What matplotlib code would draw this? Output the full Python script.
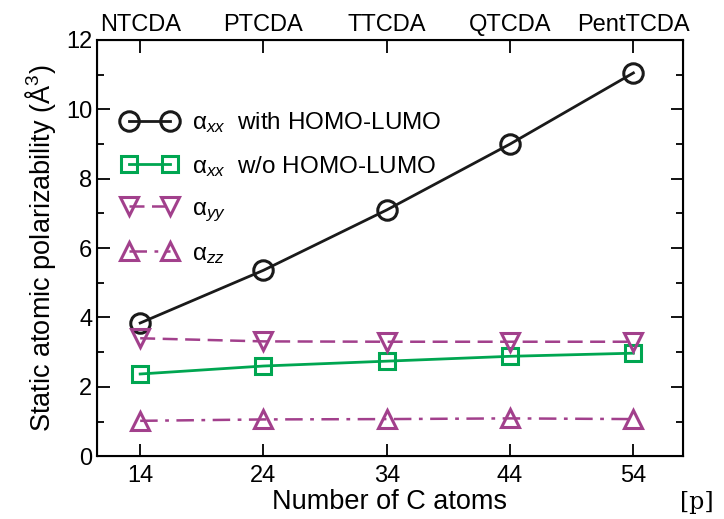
import matplotlib
matplotlib.use("Agg")
import matplotlib.pyplot as plt
from matplotlib.ticker import MultipleLocator

plt.rcParams['font.family'] = ['Liberation Sans', 'DejaVu Sans']
plt.rcParams['mathtext.fontset'] = 'custom'
plt.rcParams['mathtext.rm'] = 'Liberation Sans'
plt.rcParams['mathtext.it'] = 'Liberation Sans:italic'

# number of carbon atoms and molecule names
n_carbon = [14, 24, 34, 44, 54]
molecules = ['NTCDA', 'PTCDA', 'TTCDA', 'QTCDA', 'PentTCDA']

# static polarizabilities (Å^3)
alpha_xx = [3.84, 5.36, 7.10, 9.00, 11.05]
alpha_xx_nohl = [2.37, 2.60, 2.74, 2.88, 2.97]
alpha_yy = [3.40, 3.31, 3.30, 3.30, 3.30]
alpha_zz = [1.02, 1.06, 1.07, 1.09, 1.07]

black = '#1a1a1a'
green = '#00a651'
purple = '#a2408c'

fig = plt.figure(figsize=(7.24, 5.19), dpi=100)
ax = fig.add_axes([0.134, 0.121, 0.809, 0.802])

ax.plot(n_carbon, alpha_xx, '-', color=black, lw=2.0, marker='o', ms=14,
        mfc='none', mew=2.2, label=r'α$_{xx}$  with HOMO-LUMO')
ax.plot(n_carbon, alpha_xx_nohl, '-', color=green, lw=2.0, marker='s', ms=12,
        mfc='none', mew=2.2, label=r'α$_{xx}$  w/o HOMO-LUMO')
ax.plot(n_carbon, alpha_yy, '--', color=purple, lw=1.8, marker='v', ms=13,
        mfc='none', mew=2.2, dashes=(6, 3), label=r'α$_{yy}$')
ax.plot(n_carbon, alpha_zz, '-.', color=purple, lw=1.8, marker='^', ms=13,
        mfc='none', mew=2.2, dashes=(7, 3, 1.5, 3), label=r'α$_{zz}$')

ax.set_xlim(10.5, 58)
ax.set_ylim(0, 12)
ax.set_xticks(n_carbon)
ax.yaxis.set_major_locator(MultipleLocator(2))
ax.yaxis.set_minor_locator(MultipleLocator(1))
ax.tick_params(axis='both', which='major', direction='in', length=9, width=1.3,
               labelsize=17, right=True)
ax.tick_params(axis='y', which='minor', direction='in', length=5, width=1.3, right=True)
ax.tick_params(axis='x', pad=6)
for sp in ax.spines.values():
    sp.set_linewidth(1.5)

ax.set_xlabel('Number of C atoms', fontsize=19.5, labelpad=2)
ax.set_ylabel('Static atomic polarizability (Å$^3$)', fontsize=19.5, labelpad=6)

# molecule names along the top
top = ax.twiny()
top.set_xlim(ax.get_xlim())
top.set_xticks(n_carbon)
top.set_xticklabels(molecules)
top.tick_params(axis='x', direction='in', length=9, width=1.3, labelsize=17, pad=3)

ax.legend(loc='upper left', bbox_to_anchor=(0.025, 0.855), frameon=False,
          numpoints=2, handlelength=2.3, handletextpad=0.6,
          labelspacing=0.78, fontsize=17.5, borderaxespad=0)

fig.text(0.985, 0.01, '[p]', family='DejaVu Serif', fontsize=17,
         ha='right', va='bottom')

fig.savefig('out.png', dpi=100)
